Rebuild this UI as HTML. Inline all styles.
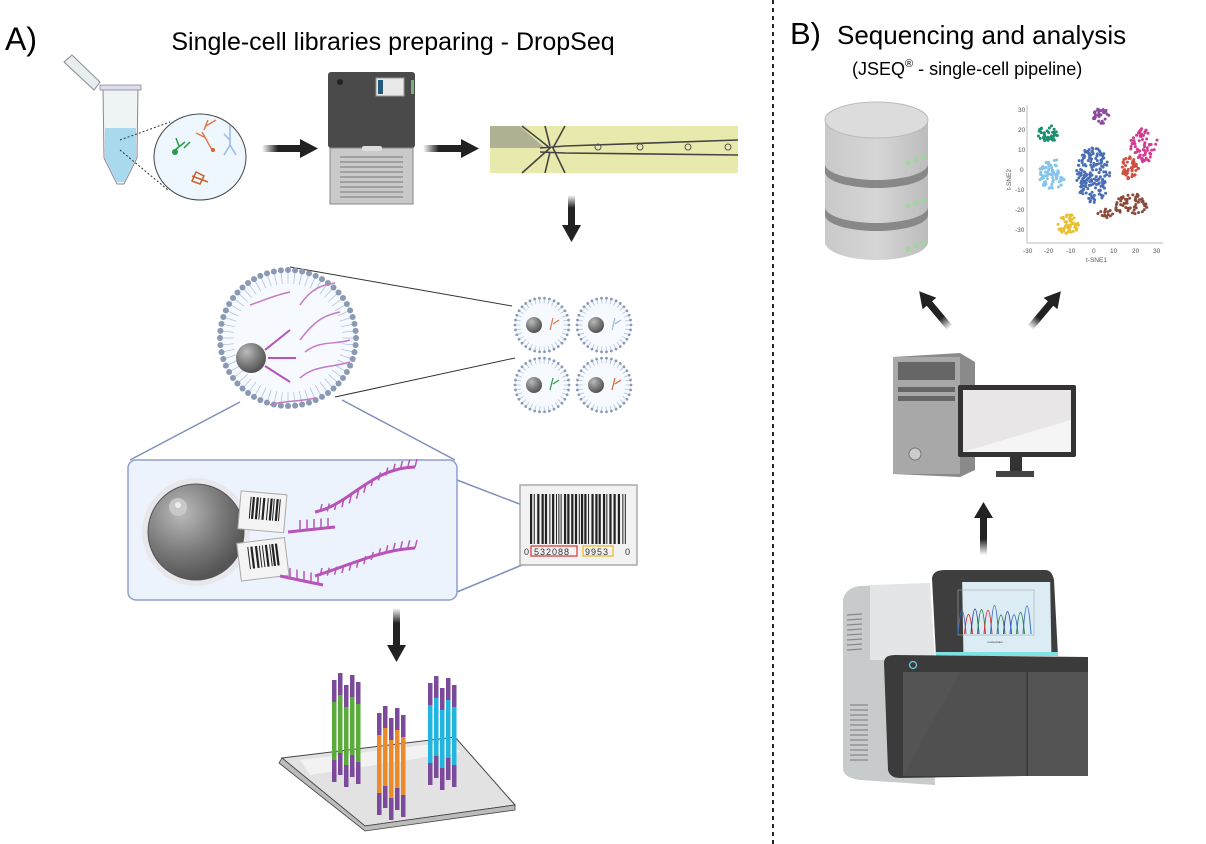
<!DOCTYPE html>
<html><head><meta charset="utf-8"><style>
html,body{margin:0;padding:0;background:#fff}
svg{display:block}
text{font-family:"Liberation Sans",sans-serif}
</style></head><body>
<svg id="s" width="1206" height="844" viewBox="0 0 1206 844" xmlns="http://www.w3.org/2000/svg">
<defs>
<linearGradient id="ah" x1="0" x2="1"><stop offset="0" stop-color="#222" stop-opacity="0"/><stop offset="0.4" stop-color="#222"/></linearGradient>
<linearGradient id="av" x1="0" y1="0" x2="0" y2="1"><stop offset="0" stop-color="#222" stop-opacity="0"/><stop offset="0.4" stop-color="#222"/></linearGradient>
<radialGradient id="bead" cx="0.35" cy="0.3" r="0.7"><stop offset="0" stop-color="#bbb"/><stop offset="0.6" stop-color="#7a7a7a"/><stop offset="1" stop-color="#555"/></radialGradient>
<linearGradient id="cyl" x1="0" x2="1"><stop offset="0" stop-color="#c9c9c9"/><stop offset="0.5" stop-color="#d6d6d6"/><stop offset="1" stop-color="#bcbcbc"/></linearGradient>
</defs>

<!-- titles -->
<text x="5" y="50" font-size="32">A)</text>
<text x="393" y="50" font-size="25" text-anchor="middle">Single-cell libraries preparing - DropSeq</text>
<text x="790" y="44" font-size="31">B)</text>
<text x="837" y="44" font-size="26">Sequencing and analysis</text>
<text x="852" y="75" font-size="18">(JSEQ<tspan font-size="11" dy="-8">®</tspan><tspan dy="8"> - single-cell pipeline)</tspan></text>
<line x1="773" y1="0" x2="773" y2="844" stroke="#222" stroke-width="2" stroke-dasharray="4,4"/>

<!-- tube -->
<g>
<path d="M64 62 L72 55 L100 82 L94 90 Z" fill="#e6eeee" stroke="#889" stroke-width="1"/>
<path d="M103 88 L138 88 L137 158 L124 184 L117 184 L104 158 Z" fill="#eef3f3" stroke="#889"/>
<path d="M105 128 L136 128 L136 158 L124 182 L117 182 L105 158 Z" fill="#a9d9ee"/>
<rect x="100" y="85" width="41" height="5" fill="#dde" stroke="#889" stroke-width="0.8"/>
</g>
<line x1="120" y1="140" x2="170" y2="122" stroke="#333" stroke-dasharray="2,2"/>
<line x1="120" y1="150" x2="168" y2="190" stroke="#333" stroke-dasharray="2,2"/>
<ellipse cx="200" cy="157" rx="46" ry="43" fill="#eef7fd" stroke="#444" stroke-width="1"/>
<g stroke-width="1.5" fill="none">
<path d="M175 150 l10 -8 m-6 4 l-3 -8 m8 10 l6 -6" stroke="#2a9a4a"/><circle cx="175" cy="152" r="3" fill="#2a9a4a" stroke="none"/>
<path d="M212 150 l-10 -18 m4 6 l-10 -5 m8 -3 l4 -10 m-2 6 l10 -6" stroke="#e07a50"/><circle cx="213" cy="150" r="2" fill="#e06030" stroke="none"/>
<path d="M230 145 l0 -20 m0 20 l-6 10 m6 -10 l6 10 m-6 -15 l-6 -6" stroke="#9ab8e8"/>
<path d="M196 172 l8 4 l-4 8 l-8 -3 z m-4 4 l16 6" stroke="#d0602a"/>
</g>

<!-- arrows top -->
<rect x="262" y="145" width="40" height="7" fill="url(#ah)"/><polygon points="300,139 318,148.5 300,158" fill="#222"/>
<rect x="423" y="145" width="40" height="7" fill="url(#ah)"/><polygon points="461,139 479,148.5 461,158" fill="#222"/>

<!-- machine -->
<rect x="328" y="72" width="87" height="76" rx="3" fill="#4a4a4a"/>
<rect x="376" y="78" width="28" height="18" fill="#e8e8e8" stroke="#999"/><rect x="378" y="80" width="5" height="14" fill="#235a7a"/><rect x="411" y="80" width="3" height="14" fill="#7ab07a"/>
<circle cx="340" cy="82" r="3" fill="#222"/>
<rect x="330" y="148" width="83" height="56" fill="#c9c9c9" stroke="#888"/>
<rect x="362" y="146" width="20" height="5" rx="2" fill="#ddd"/>
<g stroke="#777" stroke-width="1" id="vents"></g>

<!-- chip -->
<rect x="490" y="126" width="248" height="47" fill="#e8eaad"/>
<path d="M490 126 L520 126 L545 148 L490 148 Z" fill="#777" opacity="0.5"/>
<g stroke="#444" stroke-width="1.6" fill="none">
<path d="M540 148 L565 146 L738 140"/><path d="M540 152 L565 153 L738 155"/>
<path d="M522 126 L550 148 L522 173"/><path d="M565 126 L553 148 L565 173"/>
<path d="M545 126 L550 146"/><path d="M545 173 L550 152"/>
</g>
<g fill="none" stroke="#555"><circle cx="598" cy="147" r="3"/><circle cx="640" cy="147" r="3"/><circle cx="688" cy="147" r="3"/><circle cx="728" cy="147" r="3"/></g>

<rect x="568" y="195" width="7" height="32" fill="url(#av)"/><polygon points="562,225 571.5,242 581,225" fill="#222"/>

<!-- big droplet -->
<line x1="290" y1="267" x2="512" y2="306" stroke="#333"/>
<line x1="335" y1="397" x2="515" y2="358" stroke="#333"/>
<line x1="240" y1="402" x2="130" y2="460" stroke="#7e8fbf" stroke-width="1.5"/>
<line x1="342" y1="400" x2="455" y2="460" stroke="#7e8fbf" stroke-width="1.5"/>
<line x1="457" y1="480" x2="522" y2="505" stroke="#7e8fbf" stroke-width="1.5"/>
<line x1="457" y1="592" x2="522" y2="565" stroke="#7e8fbf" stroke-width="1.5"/>
<g id="drops"></g>

<!-- panel -->
<rect x="128" y="460" width="329" height="140" rx="8" fill="#edf3fc" stroke="#8fa0cf" stroke-width="1.5"/>
<circle cx="196" cy="532" r="54" fill="#e8e8ec"/>
<circle cx="196" cy="532" r="48" fill="url(#bead)" stroke="#555"/>
<circle cx="178" cy="507" r="9" fill="#c8c8c8"/><circle cx="178" cy="505" r="3" fill="#eee"/>
<g transform="rotate(5 265 505)"><rect x="240" y="493" width="46" height="38" fill="#f4f4f4" stroke="#aaa"/><g id="bc1"></g></g>
<g transform="rotate(-7 265 552)"><rect x="238" y="540" width="48" height="38" fill="#f4f4f4" stroke="#aaa"/><g id="bc2"></g></g>
<g fill="none" stroke="#b754b7" stroke-width="3">
<path d="M288 532 L335 527"/><path d="M315 512 C350 505 370 468 415 467"/>
<path d="M280 576 L323 585"/><path d="M315 576 C350 565 380 550 415 548"/>
</g>
<g id="teeth" stroke="#b754b7" stroke-width="1.5"></g>

<!-- barcode -->
<rect x="520" y="485" width="117" height="80" fill="#f2f2f2" stroke="#aaa" stroke-width="1.5"/>
<g id="bc3"></g>
<rect x="531" y="546" width="46" height="10" fill="none" stroke="#d33" stroke-width="1.2"/>
<rect x="583" y="546" width="30" height="10" fill="none" stroke="#e8b820" stroke-width="1.2"/>
<text x="524" y="555" font-size="9" fill="#333">0</text>
<text x="534" y="555" font-size="9" fill="#333" letter-spacing="1">532088</text>
<text x="585" y="555" font-size="9" fill="#333" letter-spacing="1">9953</text>
<text x="625" y="555" font-size="9" fill="#333">0</text>

<rect x="393" y="608" width="7" height="38" fill="url(#av)"/><polygon points="387,645 396.5,662 406,645" fill="#222"/>

<!-- slide -->
<polygon points="282,758 455,737 515,805 365,826" fill="#e2e2e2" stroke="#444" stroke-width="1"/>
<polygon points="282,758 365,826 515,805 515,810 365,831 279,763" fill="#bcbcbc" stroke="#444" stroke-width="0.8"/>
<polygon points="300,760 450,742 460,752 310,775" fill="#f2f2f2"/>
<g id="bars"></g>

<!-- database -->
<rect x="825" y="120" width="103" height="122" fill="url(#cyl)"/>
<ellipse cx="876.5" cy="242" rx="51.5" ry="18" fill="url(#cyl)"/>
<path d="M825 164 a51.5 16 0 0 0 103 0 v8 a51.5 16 0 0 1 -103 0 z" fill="#888"/>
<path d="M825 207 a51.5 16 0 0 0 103 0 v8 a51.5 16 0 0 1 -103 0 z" fill="#888"/>
<ellipse cx="876.5" cy="120" rx="51.5" ry="18" fill="#dcdcdc" stroke="#bbb"/>
<g fill="#9ed79e"><circle cx="908" cy="163" r="2.5"/><circle cx="916" cy="160" r="2.5"/><circle cx="923" cy="157" r="2.5"/><circle cx="908" cy="206" r="2.5"/><circle cx="916" cy="203" r="2.5"/><circle cx="923" cy="200" r="2.5"/><circle cx="908" cy="249" r="2.5"/><circle cx="916" cy="246" r="2.5"/><circle cx="923" cy="243" r="2.5"/></g>

<!-- tsne -->
<g font-size="6.5" fill="#555">
<line x1="1027" y1="105" x2="1027" y2="243" stroke="#bbb"/><line x1="1027" y1="243" x2="1163" y2="243" stroke="#bbb"/>
<text x="1018" y="112">30</text><text x="1018" y="132">20</text><text x="1018" y="152">10</text><text x="1020" y="172">0</text><text x="1015" y="192">-10</text><text x="1015" y="212">-20</text><text x="1015" y="232">-30</text>
<text x="1023" y="253">-30</text><text x="1044" y="253">-20</text><text x="1066" y="253">-10</text><text x="1092" y="253">0</text><text x="1110" y="253">10</text><text x="1132" y="253">20</text><text x="1153" y="253">30</text>
<text x="1086" y="262">t-SNE1</text>
<text transform="translate(1011 190) rotate(-90)">t-SNE2</text>
</g>
<g id="dots"></g>

<!-- diag arrows -->
<g transform="translate(950 328) rotate(-130)"><rect x="0" y="-3.5" width="34" height="7" fill="url(#ah)"/><polygon points="32,-9 48,0 32,9" fill="#222"/></g>
<g transform="translate(1030 328) rotate(-50)"><rect x="0" y="-3.5" width="34" height="7" fill="url(#ah)"/><polygon points="32,-9 48,0 32,9" fill="#222"/></g>

<!-- computer -->
<polygon points="893,357 960,353 975,362 975,470 960,477 893,474" fill="#8a8a8a"/>
<rect x="893" y="357" width="67" height="117" fill="#a8a8a8"/>
<rect x="898" y="362" width="57" height="18" fill="#666"/>
<rect x="898" y="387" width="57" height="5" fill="#666"/><rect x="898" y="396" width="57" height="5" fill="#666"/>
<circle cx="915" cy="454" r="6" fill="#ccc" stroke="#777"/>
<rect x="958" y="385" width="118" height="72" rx="2" fill="#333"/>
<rect x="963" y="390" width="108" height="62" fill="#e8e6e6"/>
<path d="M963 452 L1071 420 L1071 452 Z" fill="#f6f5f5"/>
<rect x="1010" y="457" width="12" height="15" fill="#333"/><rect x="996" y="471" width="38" height="6" fill="#444"/>

<rect x="980" y="515" width="7" height="40" fill="url(#av)" transform="rotate(180 983.5 535)"/>
<polygon points="974,518 983.5,502 993,518" fill="#222"/>

<!-- sequencer -->
<path d="M843 600 Q845 588 860 586 L930 583 L935 785 L860 780 Q845 778 843 770 Z" fill="#c8cbcc"/>
<path d="M870 585 L930 583 L935 660 L870 660 Z" fill="#e3e5e6"/>
<g stroke="#888" stroke-width="1.2" id="sv"></g>
<path d="M932 578 Q933 570 945 570 L1045 570 Q1052 570 1054 580 L1058 656 L936 656 Z" fill="#3e3e3e"/>
<rect x="952" y="582" width="88" height="70" fill="#dcecf4" transform="skewX(1)"/>
<rect x="958" y="590" width="76" height="45" fill="none" stroke="#aaa" stroke-width="0.6"/>
<g fill="none" stroke-width="1" id="peaks"></g>
<text x="995" y="643" font-size="3" text-anchor="middle" fill="#333">nucleotides</text>
<rect x="936" y="652" width="122" height="4" fill="#7fe3e3"/>
<path d="M884 663 Q884 655 895 655 L1088 657 L1088 775 L900 778 Q890 778 888 770 Z" fill="#3b3b3b"/>
<rect x="903" y="672" width="185" height="104" fill="#545454"/>
<line x1="1027" y1="672" x2="1027" y2="776" stroke="#333" stroke-width="1.5"/>
<polygon points="903,776 960,672 1027,672 1027,776" fill="#4c4c4c" opacity="0.4"/>
<circle cx="913" cy="665" r="3.5" fill="none" stroke="#6cd" stroke-width="1.3"/>
</svg>
<script>
var N='http://www.w3.org/2000/svg';
function el(p,t,a){var e=document.createElementNS(N,t);for(var k in a)e.setAttribute(k,a[k]);p.appendChild(e);return e;}
var g=document.getElementById('vents');for(var y=157;y<200;y+=5)el(g,'line',{x1:340,x2:403,y1:y,y2:y});
var r=1;function rnd(){r=(r*16807)%2147483647;return r/2147483647;}
// droplets
var d=document.getElementById('drops');
function drop(cx,cy,R,big){el(d,'circle',{cx:cx,cy:cy,r:R,fill:'#f6f9fd'});
var n=big?60:34;for(var i=0;i<n;i++){var a=i/n*2*Math.PI;el(d,'line',{x1:cx+Math.cos(a)*R*0.8,y1:cy+Math.sin(a)*R*0.8,x2:cx+Math.cos(a)*R,y2:cy+Math.sin(a)*R,stroke:'#a8bce0','stroke-width':0.7});el(d,'circle',{cx:cx+Math.cos(a)*R,cy:cy+Math.sin(a)*R,r:big?3:1.4,fill:'#8a9ab5'});}}
drop(288,338,68,true);
[[542,325],[604,325],[542,385],[604,385]].forEach(function(p,i){drop(p[0],p[1],27,false);el(d,'circle',{cx:p[0]-8,cy:p[1],r:8,fill:'url(#bead)'});el(d,'path',{d:'M'+(p[0]+8)+' '+(p[1]+5)+' l3 -12 m0 6 l6 -4',stroke:['#e07a50','#9ab8e8','#2a9a4a','#d0602a'][i],fill:'none','stroke-width':1.2});});
el(d,'circle',{cx:251,cy:358,r:15,fill:'url(#bead)'});
[['M265 350 L290 330',''],['M268 358 L296 358',''],['M265 366 L290 382','']].forEach(function(q){el(d,'path',{d:q[0],stroke:'#b754b7','stroke-width':2,fill:'none'});});
['M250 305 C265 300 275 295 290 292','M300 305 C310 290 320 285 335 283','M300 340 C315 320 325 315 340 312','M305 352 C320 340 335 345 350 340','M300 378 C315 365 330 368 350 362','M270 405 C285 400 300 402 315 398'].forEach(function(p){el(d,'path',{d:p,stroke:'#c47ac4','stroke-width':1.5,fill:'none'});});
// teeth
var t=document.getElementById('teeth');
for(var i=0;i<5;i++){el(t,'line',{x1:300+i*7,y1:530-i*0.5,x2:300+i*7,y2:520-i*0.5});}
for(var i=0;i<14;i++){var u=i/13,x=320+u*95,y=512+( -45)*(u<0.5?2*u*u:1-2*(1-u)*(1-u));el(t,'line',{x1:x,y1:y,x2:x+2,y2:y-8});}
for(var i=0;i<5;i++){el(t,'line',{x1:290+i*7,y1:578+i*1.5,x2:290+i*7,y2:568+i*1.5});}
for(var i=0;i<14;i++){var u=i/13,x=320+u*95,y=576+(-28)*(u<0.5?2*u*u:1-2*(1-u)*(1-u));el(t,'line',{x1:x,y1:y,x2:x+2,y2:y-8});}
// barcodes
function bars(id,x0,y0,w,h){var g=document.getElementById(id),x=x0;while(x<x0+w){var bw=rnd()<0.5?1:2.2;el(g,'rect',{x:x,y:y0,width:bw,height:h,fill:'#222'});x+=bw+1+rnd()*1.5;}}
bars('bc1',250,498,30,22);bars('bc2',248,545,32,22);bars('bc3',530,494,95,50);
// slide bars
var b=document.getElementById('bars');
function grp(x0,y0,c){var off=[0,-7,5,-5,2];for(var i=0;i<5;i++){var x=x0+i*6,y=y0+off[i];el(b,'rect',{x:x,y:y,width:4.5,height:22,fill:'#7b4a9a'});el(b,'rect',{x:x,y:y+22,width:4.5,height:58,fill:c});el(b,'rect',{x:x,y:y+80,width:4.5,height:22,fill:'#7b4a9a'});}}
grp(332,680,'#5aaa3c');grp(377,713,'#ea8a2a');grp(428,683,'#22b5e0');
// tsne dots
var dd=document.getElementById('dots');
function cl(cx,cy,rx,ry,n,c){for(var i=0;i<n;i++){var a=rnd()*6.283,q=Math.sqrt(rnd());el(dd,'circle',{cx:cx+Math.cos(a)*rx*q,cy:cy+Math.sin(a)*ry*q,r:1.5,fill:c});}}
cl(1048,134,10,9,45,'#1a9070');cl(1101,116,8,8,30,'#8a4aa0');cl(1144,145,14,17,70,'#d03d90');cl(1052,174,13,16,80,'#86c4f0');cl(1093,175,17,28,180,'#4a6eb5');cl(1130,168,9,12,45,'#d04e42');cl(1130,204,18,11,60,'#8a4a3a');cl(1105,213,8,5,15,'#8a4a3a');cl(1068,224,11,10,50,'#e8c030');
// seq vents
var sv=document.getElementById('sv');for(var y=615;y<655;y+=5)el(sv,'line',{x1:847,x2:862,y1:y,y2:y-1});for(var y=705;y<765;y+=5)el(sv,'line',{x1:850,x2:868,y1:y,y2:y});
// peaks
var pk=document.getElementById('peaks'),cols=['#3a70c0','#d03030','#3040a0','#2a8050','#d03030','#3a70c0','#2a8050','#3040a0','#3a70c0','#2a8050','#3a70c0'];
for(var i=0;i<11;i++){var x=962+i*6.5,h=18+rnd()*12;el(pk,'path',{d:'M'+(x-4)+' 634 Q'+x+' '+(634-2*h)+' '+(x+4)+' 634',stroke:cols[i]});}
</script>
</body></html>
